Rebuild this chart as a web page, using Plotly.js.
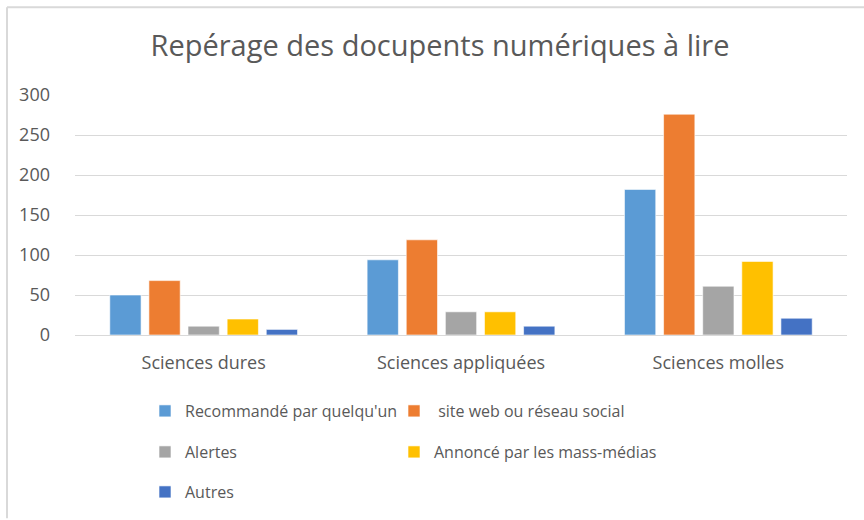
<!DOCTYPE html>
<html>
<head>
<meta charset="utf-8">
<script src="https://cdn.plot.ly/plotly-3.0.1.min.js"></script>
<style>
  html, body { margin: 0; padding: 0; background: #ffffff; }
  #chart { width: 864px; height: 520px; }
</style>
</head>
<body>
<div id="chart"></div>
<script>
const categories = ["Sciences dures", "Sciences appliquées", "Sciences molles"];
const seriesNames = ["Recommandé par quelqu'un", " site web ou réseau social", "Alertes", "Annoncé par les mass-médias", "Autres"];
const recommande = [50, 94, 182];
const siteWeb = [68, 119, 276];
const alertes = [11, 29, 61];
const annonce = [20, 29, 92];
const autres = [7, 11, 21];
const yTicks = [0, 50, 100, 150, 200, 250, 300];

const seriesValues = [recommande, siteWeb, alertes, annonce, autres];
const colors = ["#5B9BD5", "#ED7D31", "#A5A5A5", "#FFC000", "#4472C4"];
const legendIds = ["legend", "legend2", "legend3", "legend4", "legend5"];

const traces = seriesValues.map((vals, i) => ({
  type: "bar",
  x: categories,
  y: vals,
  name: seriesNames[i],
  legend: legendIds[i],
  marker: { color: colors[i], line: { color: "rgba(255,255,255,0.6)", width: 1 } },
  hoverinfo: "x+y+name"
}));

const M = { l: 75, r: 17, t: 95, b: 184 };
const W = 864, H = 520;
const pw = W - M.l - M.r, ph = H - M.t - M.b;
const px2x = px => (px - M.l) / pw;
const py2y = py => (H - M.b - py) / ph;

const font = "Open Sans, Noto Sans, Liberation Sans, sans-serif";
const legendCommon = {
  orientation: "h",
  xanchor: "left",
  yanchor: "middle",
  font: { family: font, size: 16, color: "#595959" },
  bgcolor: "rgba(0,0,0,0)",
  itemclick: false
};
const col1 = px2x(145), col2 = px2x(394);

const layout = {
  width: W, height: H,
  margin: M,
  paper_bgcolor: "#ffffff",
  plot_bgcolor: "#ffffff",
  font: { family: font, color: "#595959" },
  title: {
    text: "Repérage des docupents numériques à lire",
    font: { family: font, size: 29, color: "#595959" },
    x: 440 / W, xref: "container", xanchor: "center",
    y: 1 - 46 / H, yref: "container", yanchor: "middle"
  },
  barmode: "group",
  bargap: 0.24,
  bargroupgap: 0.2,
  xaxis: {
    type: "category",
    showgrid: false,
    showline: false,
    zeroline: false,
    ticks: "",
    tickfont: { family: font, size: 18, color: "#595959" },
    ticklabelstandoff: 15
  },
  yaxis: {
    range: [0, 300],
    tickvals: yTicks,
    ticktext: yTicks.map(String),
    showgrid: true,
    gridcolor: "#d9d9d9",
    gridwidth: 1,
    zeroline: true,
    zerolinecolor: "#d9d9d9",
    showline: false,
    ticks: "",
    tickfont: { family: font, size: 18, color: "#595959" },
    ticklabelstandoff: 24
  },
  legend: Object.assign({}, legendCommon, { x: col1, y: py2y(411) }),
  legend2: Object.assign({}, legendCommon, { x: col2, y: py2y(411) }),
  legend3: Object.assign({}, legendCommon, { x: col1, y: py2y(452) }),
  legend4: Object.assign({}, legendCommon, { x: col2, y: py2y(452) }),
  legend5: Object.assign({}, legendCommon, { x: col1, y: py2y(492) }),
  shapes: [
    { type: "line", xref: "paper", yref: "paper", x0: px2x(7), x1: px2x(7), y0: py2y(7), y1: py2y(520), line: { color: "#d9d9d9", width: 2 } },
    { type: "line", xref: "paper", yref: "paper", x0: px2x(7), x1: px2x(864), y0: py2y(7), y1: py2y(7), line: { color: "#d9d9d9", width: 2 } }
  ],
  showlegend: true
};

Plotly.newPlot("chart", traces, layout, { displayModeBar: false, staticPlot: true });
</script>
</body>
</html>
